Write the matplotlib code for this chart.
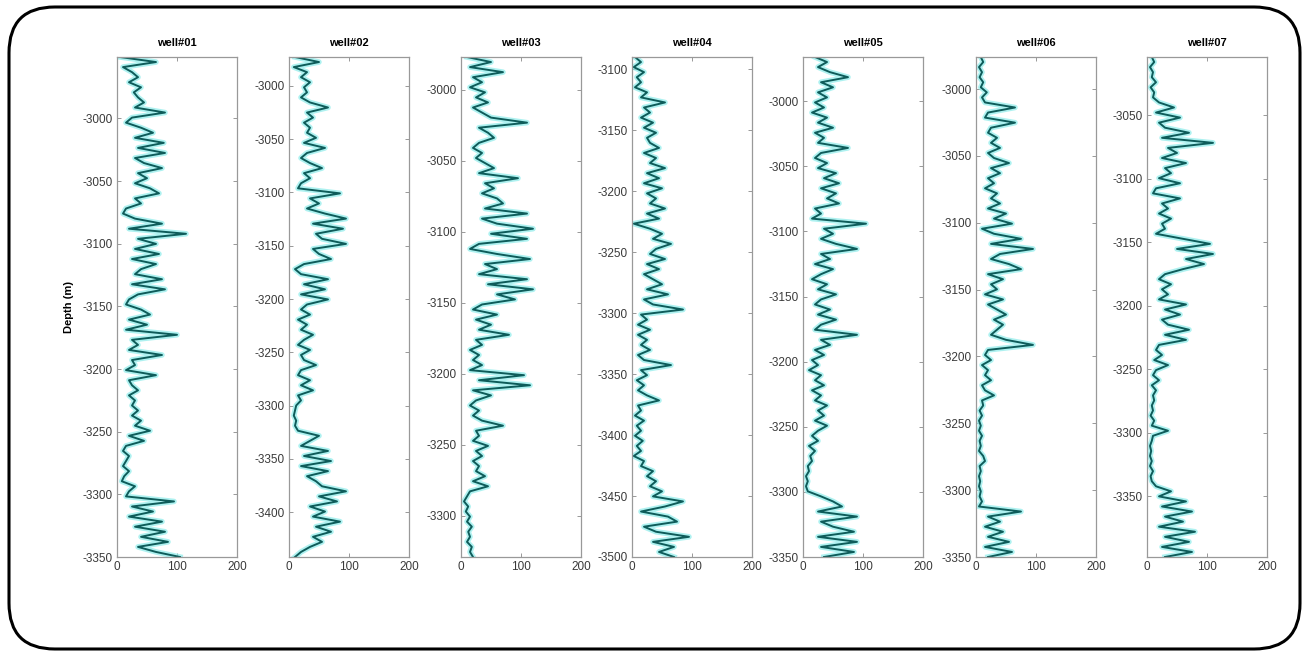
import numpy as np
import matplotlib
matplotlib.use('Agg')
import matplotlib.pyplot as plt
from matplotlib.patches import FancyBboxPatch

plt.rcParams['font.family'] = ['Liberation Sans', 'DejaVu Sans']
plt.rcParams['axes.unicode_minus'] = False

# well names and depth ranges (top, bottom) in m
WELLS = ['well#01', 'well#02', 'well#03', 'well#04', 'well#05', 'well#06', 'well#07']
TOPS = [-2951, -2973, -2977, -3090, -2966, -2976, -3004]
BOTTOMS = [-3350, -3442, -3329, -3500, -3350, -3350, -3398]

# log values, sampled evenly from top to bottom of each well
W01 = [5, 65, 10, 25, 35, 20, 40, 28, 35, 45,
       30, 80, 25, 15, 40, 60, 30, 78, 35, 80,
       30, 45, 75, 35, 50, 30, 55, 70, 30, 40,
       15, 10, 30, 75, 20, 115, 35, 65, 30, 70,
       25, 65, 40, 30, 75, 25, 80, 35, 20, 15,
       40, 55, 20, 50, 15, 100, 25, 35, 20, 75,
       25, 30, 15, 65, 20, 25, 35, 20, 30, 25,
       35, 25, 40, 30, 55, 20, 45, 15, 10, 20,
       15, 10, 20, 12, 8, 30, 20, 15, 95, 25,
       60, 20, 75, 30, 80, 40, 85, 35, 65, 105]
W02 = [10, 50, 8, 30, 20, 35, 25, 30, 20, 35,
       65, 30, 40, 25, 35, 30, 45, 25, 60, 30,
       20, 35, 55, 25, 35, 20, 15, 85, 35, 50,
       30, 60, 95, 40, 90, 45, 55, 95, 40, 50,
       70, 25, 10, 20, 65, 25, 60, 20, 65, 30,
       20, 35, 15, 30, 20, 40, 25, 15, 35, 20,
       25, 45, 20, 15, 35, 20, 40, 15, 20, 12,
       10, 8, 12, 10, 15, 50, 35, 20, 65, 25,
       70, 20, 65, 30, 45, 55, 95, 50, 80, 35,
       60, 40, 85, 45, 70, 40, 55, 35, 20, 10]
W03 = [10, 50, 15, 70, 20, 35, 15, 40, 25, 45,
       20, 35, 50, 110, 30, 45, 55, 30, 20, 35,
       25, 40, 55, 30, 95, 40, 55, 35, 60, 70,
       40, 110, 35, 60, 120, 50, 110, 30, 15, 60,
       115, 40, 60, 30, 110, 45, 120, 60, 90, 35,
       20, 60, 25, 50, 30, 80, 25, 35, 15, 30,
       20, 35, 15, 105, 30, 115, 20, 50, 25, 15,
       30, 20, 35, 70, 25, 30, 20, 45, 25, 35,
       20, 30, 25, 40, 20, 45, 15, 10, 5, 12,
       8, 15, 10, 18, 12, 15, 10, 18, 15, 20]
W04 = [5, 15, 3, 20, 8, 15, 5, 25, 15, 55,
       20, 30, 15, 35, 20, 40, 25, 30, 45, 20,
       40, 30, 55, 25, 45, 20, 50, 25, 40, 30,
       55, 25, 45, 3, 30, 50, 35, 65, 40, 30,
       55, 25, 45, 20, 35, 50, 25, 60, 20, 35,
       85, 15, 25, 10, 30, 10, 25, 15, 30, 10,
       20, 65, 15, 25, 8, 20, 10, 25, 45, 10,
       15, 5, 20, 8, 15, 5, 18, 8, 15, 3,
       20, 15, 35, 25, 40, 30, 50, 35, 85, 55,
       15, 60, 75, 20, 40, 95, 35, 70, 45, 70]
W05 = [20, 40, 25, 45, 75, 30, 50, 25, 40, 20,
       35, 15, 40, 25, 50, 20, 35, 25, 75, 30,
       20, 40, 25, 55, 35, 60, 30, 55, 40, 60,
       20, 30, 15, 105, 35, 50, 30, 55, 90, 30,
       45, 20, 50, 30, 15, 40, 25, 55, 30, 20,
       45, 25, 55, 30, 20, 90, 30, 45, 20, 35,
       15, 25, 10, 30, 20, 35, 15, 30, 20, 40,
       25, 35, 20, 40, 25, 15, 25, 10, 20, 12,
       15, 8, 10, 5, 8, 5, 8, 30, 50, 65,
       25, 90, 30, 50, 85, 25, 90, 30, 85, 35]
W06 = [8, 12, 5, 10, 6, 12, 8, 18, 10, 15,
       65, 20, 15, 65, 25, 20, 35, 25, 40, 20,
       30, 55, 25, 40, 20, 30, 15, 35, 25, 40,
       20, 50, 30, 60, 10, 30, 75, 25, 95, 40,
       25, 55, 75, 20, 45, 25, 35, 15, 45, 20,
       35, 50, 30, 45, 35, 25, 50, 95, 20, 15,
       25, 10, 20, 15, 25, 10, 15, 30, 10, 12,
       6, 10, 5, 8, 5, 10, 6, 8, 5, 12,
       15, 6, 8, 5, 7, 5, 8, 6, 10, 5,
       75, 20, 40, 15, 45, 20, 55, 15, 60, 20]
W07 = [8, 12, 5, 10, 8, 15, 6, 12, 10, 20,
       45, 15, 55, 20, 30, 70, 25, 110, 35, 50,
       25, 65, 30, 40, 20, 55, 15, 10, 55, 25,
       35, 20, 40, 25, 30, 15, 60, 105, 50, 110,
       65, 95, 60, 30, 20, 40, 25, 35, 20, 65,
       30, 55, 25, 35, 70, 30, 65, 20, 15, 25,
       12, 35, 15, 10, 20, 8, 15, 10, 12, 8,
       10, 6, 12, 8, 35, 10, 8, 5, 7, 5,
       8, 5, 10, 6, 8, 15, 40, 20, 65, 25,
       75, 30, 60, 20, 80, 30, 70, 25, 75, 30]
LOGS = [W01, W02, W03, W04, W05, W06, W07]

X_TICKS = [0, 100, 200]

fig = plt.figure(figsize=(13.09, 6.55), dpi=100)
W, H = 1309, 655

# rounded frame around the whole figure
frame = FancyBboxPatch((9 / W, 6 / H), 1291 / W, 642 / H,
                       boxstyle='round,pad=0,rounding_size=0.035',
                       transform=fig.transFigure, fill=False,
                       edgecolor='black', linewidth=2.2, mutation_aspect=W / H)
fig.patches.append(frame)

lefts = [117, 289, 461, 632, 803, 976, 1147]
ax_w, ax_top, ax_bot = 120, 57, 557

for k, name in enumerate(WELLS):
    ax = fig.add_axes([lefts[k] / W, 1 - ax_bot / H, ax_w / W, (ax_bot - ax_top) / H])
    vals = np.array(LOGS[k], dtype=float)
    depth = np.linspace(TOPS[k], BOTTOMS[k], len(vals))
    # light cyan halo under the dark log curve
    ax.plot(vals, depth, color='#8cecea', linewidth=4.0, alpha=0.7)
    ax.plot(vals, depth, color='#0e5c5a', linewidth=1.4)
    ax.set_xlim(0, 200)
    ax.set_ylim(BOTTOMS[k], TOPS[k])
    ax.set_xticks(X_TICKS)
    lo = int(np.ceil(BOTTOMS[k] / 50.0)) * 50
    hi = int(np.floor(TOPS[k] / 50.0)) * 50
    ax.set_yticks(np.arange(lo, hi + 1, 50))
    ax.tick_params(direction='in', length=3, width=0.6, colors='#888888',
                   labelcolor='#3a3a3a', labelsize=8.5, top=True, right=True, pad=3)
    for sp in ax.spines.values():
        sp.set_color('#999999')
        sp.set_linewidth(0.9)
    ax.set_title(name, fontsize=8, fontweight='bold', pad=8)
    if k == 0:
        ax.set_ylabel('Depth (m)', fontsize=8, fontweight='bold', labelpad=6)

fig.savefig('out.png', dpi=100)
